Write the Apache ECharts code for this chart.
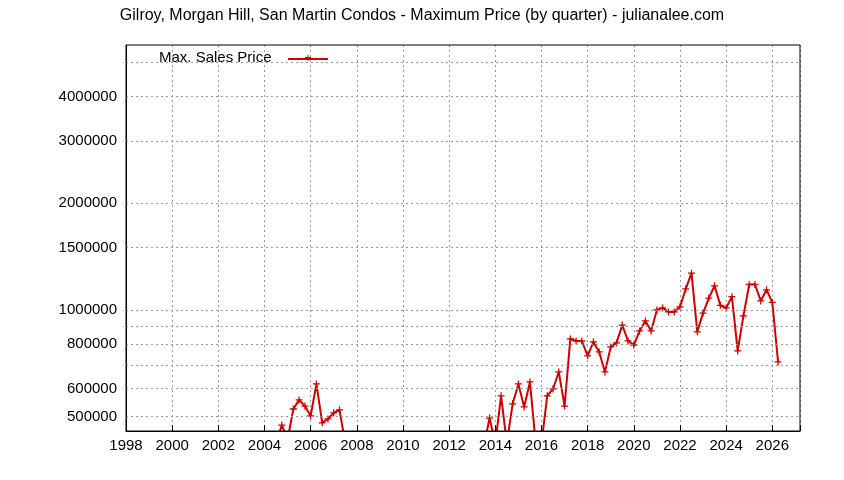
<!DOCTYPE html>
<html>
<head>
<meta charset="utf-8">
<script src="https://cdn.jsdelivr.net/npm/echarts@6/dist/echarts.min.js"></script>
<style>body{margin:0}#main{width:844px;height:480px}</style>
</head>
<body>
<div id="main"></div>
<script>
// quarterly values; those below the axis floor run off the bottom
var quarters = [2004.5,2004.75,2005,2005.25,2005.5,2005.75,2006,2006.25,2006.5,2006.75,2007,2007.25,2007.5,2007.75,
  2013.5,2013.75,2014,2014.25,2014.5,2014.75,2015,2015.25,2015.5,2015.75,2016,2016.25,2016.5,2016.75,2017,
  2017.25,2017.5,2017.75,2018,2018.25,2018.5,2018.75,2019,2019.25,2019.5,2019.75,2020,2020.25,2020.5,2020.75,
  2021,2021.25,2021.5,2021.75,2022,2022.25,2022.5,2022.75,2023,2023.25,2023.5,2023.75,2024,2024.25,2024.5,
  2024.75,2025,2025.25,2025.5,2025.75,2026,2026.25];
var maxPrice = [420000,473000,430000,525000,557000,535000,502000,618000,480000,492000,512000,522000,420000,400000,
  410000,495000,420000,572000,420000,543000,618000,532000,626000,420000,420000,572000,598000,668000,535000,
  828000,817000,817000,742000,812000,761000,668000,786000,807000,906000,817000,796000,872000,931000,872000,
  1000000,1013000,987000,987000,1020000,1146000,1270000,867000,980000,1080000,1170000,1030000,1013000,1090000,766000,
  962000,1180000,1180000,1060000,1140000,1050000,713000];
var yTicks = [500000,600000,800000,1000000,1500000,2000000,3000000,4000000];
var yGrid = [500000,600000,700000,800000,900000,1000000,1500000,2000000,3000000,4000000,5000000];

var font = 'Liberation Sans';
var chart = echarts.init(document.getElementById('main'));
chart.setOption({
  animation: false,
  textStyle: {fontFamily: font},
  title: {text: 'Gilroy, Morgan Hill, San Martin Condos - Maximum Price (by quarter) - julianalee.com',
    left: 'center', top: 3, textStyle: {fontFamily: font, fontSize: 16, fontWeight: 'normal', color: '#000'}},
  grid: {left: 126, right: 44, top: 45, bottom: 49},
  xAxis: {type: 'value', min: 1998, max: 2027.2, interval: 2,
    axisLine: {onZero: false, lineStyle: {color: '#000'}},
    axisTick: {inside: true, length: 6, lineStyle: {color: '#000'}},
    axisLabel: {color: '#000', fontSize: 15, fontFamily: font, margin: 7,
      formatter: function (v) { return v % 2 === 0 && v <= 2026 ? String(v) : ''; }},
    splitLine: {lineStyle: {color: '#999', type: [2, 3]}}},
  yAxis: {type: 'log', min: 455000, max: 5600000,
    axisLine: {show: true, lineStyle: {color: '#000'}},
    axisTick: {show: false}, axisLabel: {show: false}, splitLine: {show: false}},
  graphic: [
    {type: 'rect', shape: {x: 126, y: 45, width: 674, height: 386}, style: {fill: 'none', stroke: '#000'}, z: 10},
    {type: 'text', left: 159, top: 50, style: {text: 'Max. Sales Price', font: '15px ' + font, fill: '#000'}},
    {type: 'line', shape: {x1: 288, y1: 59, x2: 328, y2: 59}, style: {stroke: '#cc0000', lineWidth: 2}},
    {type: 'text', x: 308, y: 59, style: {text: '+', font: '12px ' + font, fill: '#cc0000', align: 'center', verticalAlign: 'middle'}}
  ],
  series: [{
    type: 'line', data: quarters.map(function (q, i) { return [q, maxPrice[i]]; }),
    clip: true,
    symbol: 'path://M-1,-0.18H1V0.18H-1Z M-0.18,-1H0.18V1H-0.18Z', symbolSize: 7,
    itemStyle: {color: '#cc0000'}, lineStyle: {color: '#cc0000', width: 2},
    markLine: {silent: true, symbol: 'none',
      lineStyle: {color: '#999', type: [2, 3], width: 1},
      label: {position: 'start', color: '#000', fontSize: 15, fontFamily: font, distance: 9,
        formatter: function (p) { return yTicks.indexOf(p.value) >= 0 ? String(p.value) : ''; }},
      data: yGrid.map(function (v) { return {yAxis: v}; })}
  }]
});
</script>
</body>
</html>
